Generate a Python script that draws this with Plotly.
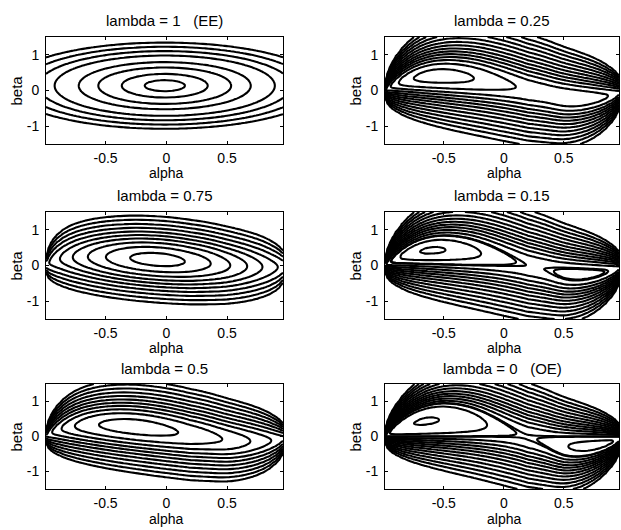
import numpy as np
import plotly.graph_objects as go

# ---------------- data ----------------
LAMBDAS = [1.0, 0.25, 0.75, 0.15, 0.5, 0.0]
TITLES = ["lambda = 1\u00a0\u00a0\u00a0(EE)", "lambda = 0.25", "lambda = 0.75",
          "lambda = 0.15", "lambda = 0.5", "lambda = 0\u00a0\u00a0\u00a0(OE)"]

# alpha stations (columns of the surfaces)
ALPHA = [-0.99, -0.97, -0.95, -0.93, -0.9, -0.85, -0.8, -0.75, -0.7, -0.65, -0.6,
         -0.55, -0.5, -0.45, -0.4, -0.35, -0.3, -0.25, -0.2, -0.15, -0.1, -0.05,
         0.0, 0.05, 0.1, 0.15, 0.2, 0.25, 0.3, 0.35, 0.4, 0.45, 0.5, 0.55, 0.6,
         0.65, 0.7, 0.75, 0.8, 0.85, 0.9, 0.93, 0.96]

# OE criterion: centre of the beta-valley and beta-curvature at each alpha
OE_CENTER = [0.020, 0.060, 0.104, 0.142, 0.195, 0.266, 0.323, 0.371, 0.409, 0.438, 0.458,
             0.471, 0.476, 0.474, 0.466, 0.451, 0.432, 0.406, 0.374, 0.337, 0.295, 0.249,
             0.200, 0.148, 0.094, 0.038, -0.022, -0.061, -0.105, -0.148, -0.194, -0.236,
             -0.267, -0.283, -0.288, -0.284, -0.272, -0.253, -0.227, -0.194, -0.150,
             -0.116, -0.074]
OE_CURV = [50.25, 16.92, 10.26, 7.40, 5.263, 3.604, 2.778, 2.286, 1.961, 1.732, 1.5625,
           1.434, 1.333, 1.254, 1.190, 1.140, 1.099, 1.067, 1.042, 1.023, 1.010, 1.003,
           1.0, 1.003, 1.010, 1.023, 1.042, 1.067, 1.099, 1.140, 1.190, 1.254, 1.333,
           1.434, 1.5625, 1.732, 1.961, 2.286, 2.778, 3.604, 5.263, 7.40, 12.76]
OE_LEVEL_AT_BETA0 = 0.87

# EE criterion: elliptic bowl
EE_ALPHA0 = -0.013
EE_BETA0 = 0.135
EE_MIN = 0.852
EE_CURV_ALPHA = 0.87
EE_CURV_BETA = 1.0

# contour levels of each panel
LEVELS = [
    [0.876, 0.961, 1.112, 1.288, 1.566, 1.792, 2.042, 2.312],
    [0.66, 0.76, 0.862, 0.961, 1.06, 1.17, 1.29, 1.43, 1.6, 1.8, 2.04, 2.31, 2.62, 2.96, 3.39],
    [0.876, 0.961, 1.06, 1.17, 1.29, 1.43, 1.6, 1.8, 2.04, 2.31],
    [0.66, 0.76, 0.862, 0.875, 0.961, 1.06, 1.17, 1.29, 1.43, 1.6, 1.8, 2.04, 2.31, 2.62,
     2.96, 3.39],
    [0.862, 0.961, 1.06, 1.17, 1.29, 1.43, 1.6, 1.8, 2.04, 2.31, 2.62],
    [0.555, 0.76, 0.862, 0.875, 0.961, 1.06, 1.17, 1.29, 1.43, 1.6, 1.8, 2.04, 2.31, 2.62,
     2.96, 3.39],
]

XTICKS = [-0.5, 0, 0.5]
XTICKTEXT = ["-0.5", "0", "0.5"]
YTICKS = [-1, 0, 1]
YTICKTEXT = ["-1", "0", "1"]
XRANGE = [-0.99, 0.96]
YRANGE = [-1.5, 1.5]

# ---------------- build surfaces ----------------
a = np.array(ALPHA)
b = np.linspace(YRANGE[0], YRANGE[1], 151)
A, B = np.meshgrid(a, b)
cO = np.array(OE_CENTER)[None, :]
sO = np.array(OE_CURV)[None, :]
V_oe = OE_LEVEL_AT_BETA0 - cO ** 2 * sO + sO * (B - cO) ** 2
V_ee = EE_MIN + EE_CURV_ALPHA * (A - EE_ALPHA0) ** 2 + EE_CURV_BETA * (B - EE_BETA0) ** 2

# ---------------- layout ----------------
W, H = 621, 530
col_px = [(46, 283), (385, 619)]
row_px = [(37, 144), (212, 319), (384, 489)]
FONT = "Liberation Sans, Arial, Helvetica, sans-serif"
FS = 15
TFS = 14

fig = go.Figure()
annotations = []
layout_axes = {}
for k, lam in enumerate(LAMBDAS):
    r, c = divmod(k, 2)
    V = lam * V_ee + (1 - lam) * V_oe
    ax = "" if k == 0 else str(k + 1)
    for lev in LEVELS[k]:
        fig.add_trace(go.Contour(
            x=ALPHA, y=b, z=V, xaxis="x" + ax, yaxis="y" + ax,
            autocontour=False,
            contours=dict(start=lev, end=lev, size=1, coloring="lines", showlabels=False),
            line=dict(width=2.1, smoothing=1.0),
            colorscale=[[0, "black"], [1, "black"]], showscale=False,
            hoverinfo="skip"))
    x0, x1 = col_px[c]
    y0, y1 = row_px[r]
    common = dict(showline=True, linecolor="black", linewidth=1, mirror="ticks",
                  ticks="inside", ticklen=3, tickcolor="black", showgrid=False,
                  zeroline=False, tickfont=dict(family=FONT, size=TFS, color="black"))
    layout_axes["xaxis" + ax] = dict(domain=[x0 / W, x1 / W], range=XRANGE, tickvals=XTICKS,
                                     ticktext=XTICKTEXT, anchor="y" + ax,
                                     ticklabelstandoff=1, **common)
    layout_axes["yaxis" + ax] = dict(domain=[1 - y1 / H, 1 - y0 / H], range=YRANGE,
                                     tickvals=YTICKS, ticktext=YTICKTEXT, anchor="x" + ax,
                                     ticklabelstandoff=3, **common)
    xmid = (x0 + x1) / 2 / W
    xzero = (x0 + (0 - XRANGE[0]) / (XRANGE[1] - XRANGE[0]) * (x1 - x0)) / W
    fnt = dict(family=FONT, size=FS, color="black")
    annotations.append(dict(text=TITLES[k], x=xmid, y=1 - (y0 - 16) / H, xref="paper",
                            yref="paper", showarrow=False, xanchor="center",
                            yanchor="middle", font=fnt))
    ya = y1 + 29 if r < 2 else y1 + 30
    annotations.append(dict(text="alpha", x=xzero, y=1 - ya / H, xref="paper",
                            yref="paper", showarrow=False, xanchor="center",
                            yanchor="middle", font=dict(family=FONT, size=TFS,
                                                        color="black")))
    annotations.append(dict(text="beta", x=(x0 - 30) / W, y=1 - ((y0 + y1) / 2) / H,
                            xref="paper", yref="paper", showarrow=False, textangle=-90,
                            xanchor="center", yanchor="middle", font=fnt))

fig.update_layout(width=W, height=H, margin=dict(l=0, r=0, t=0, b=0),
                  paper_bgcolor="white", plot_bgcolor="white", showlegend=False,
                  annotations=annotations, **layout_axes)
fig.write_html("out.html", config={"displayModeBar": False},
               post_script="document.body.style.margin='0';"
                           "document.body.style.overflow='hidden';")
